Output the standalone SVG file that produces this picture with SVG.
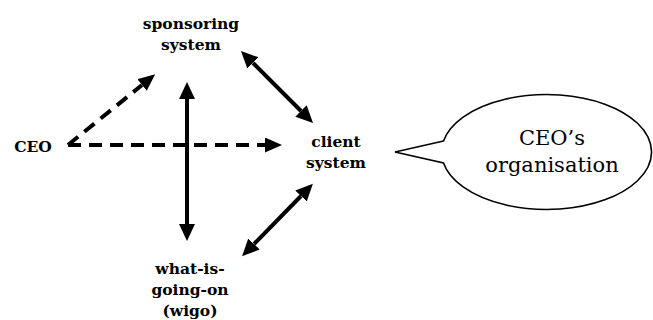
<svg xmlns="http://www.w3.org/2000/svg" width="653" height="320" viewBox="0 0 653 320">
  <style>
    .lbl { font-family: "DejaVu Serif", serif; font-weight: bold; font-size: 15.5px; fill: #000; text-anchor: middle; }
    .bub { font-family: "DejaVu Serif", serif; font-size: 21px; fill: #000; text-anchor: middle; }
    .solid { stroke: #000; stroke-width: 4; fill: none; }
    .dash { stroke: #000; stroke-width: 4; fill: none; stroke-dasharray: 13 8; }
  </style>
  <defs>
    <marker id="ah" markerUnits="userSpaceOnUse" markerWidth="17" markerHeight="16" viewBox="0 0 17 16" refX="0" refY="8" orient="auto-start-reverse">
      <path d="M0,0 L17,8 L0,16 Z" fill="#000"/>
    </marker>
    <marker id="ahd" markerUnits="userSpaceOnUse" markerWidth="17" markerHeight="15" viewBox="0 0 17 15" refX="0" refY="7.5" orient="auto">
      <path d="M0,0 L17,7.5 L0,15 Z" fill="#000"/>
    </marker>
  </defs>

  <g id="connectors">
    <line class="solid" x1="187" y1="99" x2="187" y2="224" marker-start="url(#ah)" marker-end="url(#ah)"/>
    <line class="solid" x1="253" y1="63" x2="301" y2="111" marker-start="url(#ah)" marker-end="url(#ah)"/>
    <line class="solid" x1="254" y1="244" x2="301" y2="196" marker-start="url(#ah)" marker-end="url(#ah)"/>
    <line class="dash" x1="68" y1="145" x2="265" y2="145" marker-end="url(#ahd)"/>
    <line class="dash" x1="68" y1="145" x2="142" y2="85" marker-end="url(#ahd)"/>
  </g>

  <g id="sponsoring">
    <text class="lbl" x="191" y="29">sponsoring</text>
    <text class="lbl" x="191" y="50">system</text>
  </g>

  <g id="ceo">
    <text class="lbl" x="33" y="152">CEO</text>
  </g>

  <g id="client">
    <text class="lbl" x="336" y="147">client</text>
    <text class="lbl" x="336" y="168">system</text>
  </g>

  <g id="wigo">
    <text class="lbl" x="190" y="274">what-is-</text>
    <text class="lbl" x="190" y="295">going-on</text>
    <text class="lbl" x="190" y="316">(wigo)</text>
  </g>

  <g id="bubble">
    <path d="M443.5,141 L395,152 L443.5,163 A105,57.5 0 1 0 443.5,141 Z" fill="#fff" stroke="#000" stroke-width="1.6"/>
    <text class="bub" x="552" y="145">CEO’s</text>
    <text class="bub" x="552" y="172">organisation</text>
  </g>
</svg>
